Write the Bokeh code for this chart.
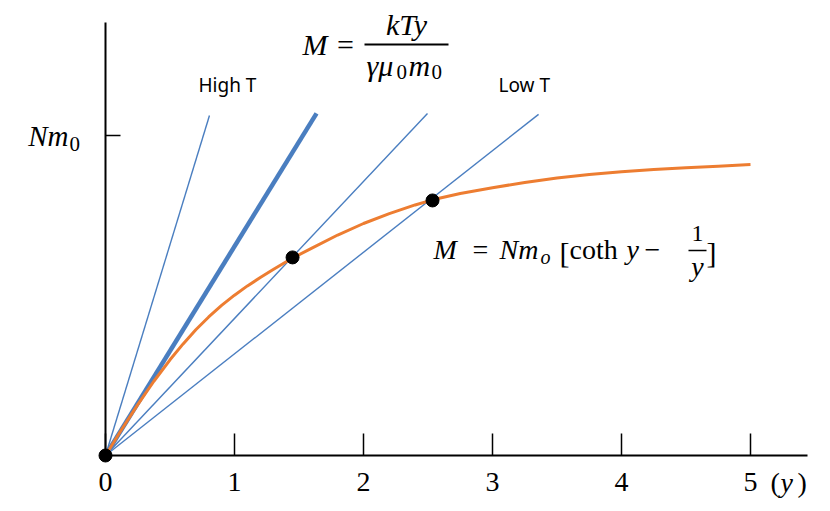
import numpy as np
from bokeh.plotting import figure
from bokeh.models import Range1d, Label, FixedTicker
from bokeh.embed import file_html
from bokeh.resources import INLINE

# ---------------- data ----------------
# Langevin-type magnetisation curve M / (N m0) versus y
curve_x = [0, 0.125, 0.25, 0.375, 0.5, 0.6, 0.7, 0.8, 0.9, 1.0, 1.1, 1.2, 1.3, 1.45,
           1.6, 1.8, 2.0, 2.2, 2.4, 2.535, 2.75, 3.0, 3.25, 3.5, 3.75, 4.0, 4.25, 4.5, 4.75, 5.0]
curve_y = [0, 0.081, 0.159, 0.232, 0.299, 0.348, 0.393, 0.433, 0.469, 0.501, 0.530, 0.556,
           0.581, 0.617, 0.648, 0.689, 0.725, 0.756, 0.783, 0.799, 0.819, 0.837, 0.853,
           0.867, 0.878, 0.887, 0.894, 0.899, 0.904, 0.909]

# straight lines M = kTy/(gamma mu0 m0) from the origin (end points)
thin_end_x = [0.806, 2.496, 3.357]
thin_end_y = [1.0625, 1.069, 1.066]
thick_end_x = [1.636]
thick_end_y = [1.069]

# intersection points (and origin)
point_x = [0, 1.45, 2.535]
point_y = [0, 0.619, 0.797]

x_ticks = [0, 1, 2, 3, 4, 5]
x_tick_labels = ["0", "1", "2", "3", "4", "5"]
y_ticks = [1]
y_tick_labels = ["Nm"]

# ---------------- helpers: picture pixel -> data (annotation placement) ----------------
def X(px):
    return (px - 105) / 129.0

def Y(py):
    return (455 - py) / 320.0

LABEL_SHIFT = 9  # px correction for label baseline placement

BLUE = "#4a7ec0"
ORANGE = "#ed7d31"
SERIF = "Liberation Serif"
SANS = "Noto Sans"

W, H = 830, 511
p = figure(width=W, height=H, output_backend="svg", toolbar_location=None,
           x_range=Range1d(X(0), X(W)), y_range=Range1d(Y(H), Y(0)),
           min_border=0, min_border_left=0, min_border_right=0,
           min_border_top=0, min_border_bottom=0,
           background_fill_color="white", border_fill_color="white",
           outline_line_color=None)
p.grid.visible = False

# x axis
xa = p.xaxis[0]
xa.fixed_location = 0
xa.bounds = (0, X(807))
xa.ticker = FixedTicker(ticks=x_ticks)
xa.major_label_overrides = {t: l for t, l in zip(x_ticks, x_tick_labels)}
xa.major_tick_in = 22
xa.major_tick_out = 0
xa.minor_tick_in = 0
xa.minor_tick_out = 0
xa.axis_line_width = 2
xa.axis_line_color = "black"
xa.major_tick_line_width = 1.5
xa.major_tick_line_color = "black"
xa.major_label_text_font = SERIF
xa.major_label_text_font_size = "28px"
xa.major_label_text_color = "black"
xa.major_label_standoff = 17

# y axis
ya = p.yaxis[0]
ya.fixed_location = 0
ya.bounds = (0, Y(22))
ya.ticker = FixedTicker(ticks=y_ticks)
ya.major_label_overrides = {t: l for t, l in zip(y_ticks, y_tick_labels)}
ya.major_tick_in = 15
ya.major_tick_out = 0
ya.minor_tick_in = 0
ya.minor_tick_out = 0
ya.axis_line_width = 2
ya.axis_line_color = "black"
ya.major_tick_line_width = 1.5
ya.major_tick_line_color = "black"
ya.major_label_text_font = SERIF
ya.major_label_text_font_style = "italic"
ya.major_label_text_font_size = "29px"
ya.major_label_text_color = "black"
ya.major_label_standoff = 37

# lines from origin
p.segment(x0=[0] * len(thin_end_x), y0=[0] * len(thin_end_x), x1=thin_end_x, y1=thin_end_y,
          line_color=BLUE, line_width=1.4)
p.segment(x0=[0] * len(thick_end_x), y0=[0] * len(thick_end_x), x1=thick_end_x, y1=thick_end_y,
          line_color=BLUE, line_width=4.5)

# curve
p.line(curve_x, curve_y, line_color=ORANGE, line_width=3, line_join="round")

# points
p.scatter(point_x, point_y, size=13, fill_color="black", line_color="black")


def lab(px, py, text, size, italic=False, font=SERIF, align="left"):
    p.add_layout(Label(x=X(px), y=Y(py - LABEL_SHIFT), text=text, text_font=font,
                       text_font_size=size,
                       text_font_style="italic" if italic else "normal",
                       text_align=align, text_baseline="alphabetic", text_color="black"))


# y tick subscript
lab(69, 152, "0", "21px")

# x axis variable
lab(770, 491, "(", "28px")
lab(780, 491, "y", "28px", italic=True)
lab(797, 491, ")", "28px")

# High T / Low T
lab(198, 93, "High T", "19px", font=SANS)
lab(498, 93, "Low T", "19px", font=SANS)

# equation 1: M = kTy / (gamma mu0 m0)
lab(302, 53, "M", "30px", italic=True)
lab(345, 53, "=", "30px", align="center")
p.segment(x0=[X(364)], y0=[Y(44)], x1=[X(448)], y1=[Y(44)], line_color="black", line_width=2)
lab(406, 33, "kTy", "30px", italic=True, align="center")
lab(366, 74, "γμ", "30px", italic=True)
lab(396, 80, "0", "21px")
lab(408, 74, "m", "30px", italic=True)
lab(431, 80, "0", "21px")

# equation 2: M = Nm_o [coth y - 1/y]
lab(433, 258, "M", "28px", italic=True)
lab(480, 258, "=", "28px", align="center")
lab(499, 258, "Nm", "28px", italic=True)
lab(540, 265, "o", "20px", italic=True)
lab(559, 261, "[", "30px")
lab(569, 258, "coth", "28px")
lab(626, 258, "y", "28px", italic=True)
lab(652, 258, "−", "28px", align="center")
lab(697, 242, "1", "24px", align="center")
p.segment(x0=[X(688)], y0=[Y(250)], x1=[X(706)], y1=[Y(250)], line_color="black", line_width=1.5)
lab(697, 275, "y", "28px", italic=True, align="center")
lab(706, 261, "]", "30px")

open("out.html", "w").write(file_html(p, INLINE))
